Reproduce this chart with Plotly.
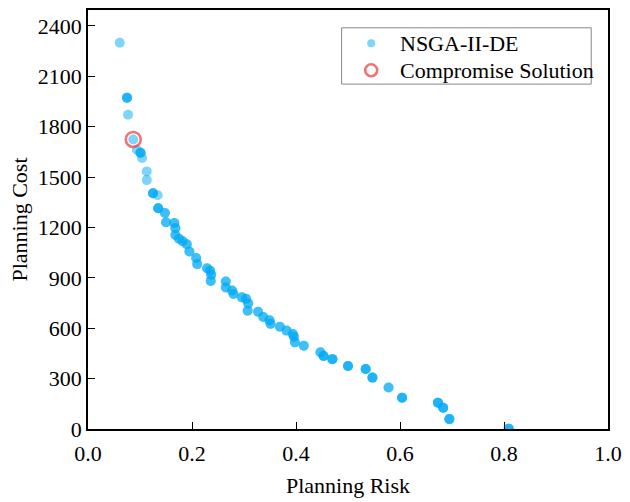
import plotly.graph_objects as go

# Pareto front obtained by NSGA-II-DE (planning risk vs. planning cost)
risk = [0.061, 0.075, 0.077, 0.087, 0.094, 0.101, 0.104, 0.113, 0.113, 0.125, 0.134,
        0.135, 0.148, 0.150, 0.166, 0.168, 0.168, 0.175, 0.182, 0.190, 0.195, 0.208,
        0.210, 0.229, 0.235, 0.237, 0.236, 0.265, 0.265, 0.277, 0.280, 0.296, 0.304,
        0.308, 0.307, 0.327, 0.337, 0.349, 0.351, 0.369, 0.382, 0.394, 0.396, 0.398,
        0.415, 0.447, 0.453, 0.470, 0.500, 0.534, 0.547, 0.578, 0.604, 0.673, 0.683,
        0.695, 0.809]
cost = [2300, 1972, 1871, 1724, 1663, 1645, 1614, 1534, 1482, 1404, 1392,
        1314, 1286, 1231, 1227, 1196, 1155, 1133, 1118, 1100, 1057, 1018,
        982, 957, 943, 919, 882, 878, 843, 825, 804, 784, 775,
        748, 704, 698, 667, 648, 626, 609, 586, 565, 549, 516,
        496, 457, 435, 416, 375, 357, 306, 247, 186, 157, 127,
        59, 2]
# number of identical solutions found at each point of the front
count = [1, 3, 1, 1, 1, 3, 1, 1, 1, 3, 1,
         3, 2, 2, 2, 2, 2, 2, 2, 2, 2, 2,
         2, 2, 2, 2, 2, 2, 2, 2, 2, 2, 2,
         2, 2, 2, 2, 2, 2, 2, 2, 2, 2, 2,
         2, 2, 3, 3, 3, 3, 3, 2, 3, 3, 3,
         3, 3]

# selected compromise solution
comp_risk = [0.087]
comp_cost = [1724]

series_names = ["NSGA-II-DE", "Compromise Solution"]

x_ticks = [0.0, 0.2, 0.4, 0.6, 0.8, 1.0]
y_ticks = [0, 300, 600, 900, 1200, 1500, 1800, 2100, 2400]

pts_x, pts_y = [], []
for rx, cy, n in zip(risk, cost, count):
    pts_x += [rx] * n
    pts_y += [cy] * n

FONT = "Liberation Serif, Times New Roman, serif"
FS = 22
BLUE = "#00AAF5"
RED = "rgba(235,70,70,0.75)"
LIGHT_BLUE = "rgba(0,170,245,0.5)"

fig = go.Figure()
fig.add_trace(go.Scatter(
    x=pts_x, y=pts_y, mode="markers", name=series_names[0], showlegend=False,
    marker=dict(size=10, color=BLUE, opacity=0.5, line=dict(width=0)),
))
fig.add_trace(go.Scatter(
    x=comp_risk, y=comp_cost, mode="markers", name=series_names[1], showlegend=False,
    marker=dict(size=15, symbol="circle-open", color=RED,
                line=dict(width=2.6, color=RED)),
))

axis_common = dict(
    showline=True, linecolor="black", linewidth=1.5, mirror=True,
    ticks="inside", ticklen=7, tickwidth=1.3, tickcolor="black",
    showgrid=False, zeroline=False,
    tickfont=dict(family=FONT, size=FS, color="black"),
)

# legend box drawn in plot-area (paper) coordinates
leg_x0, leg_x1, leg_y0, leg_y1 = 0.4877, 0.9677, 0.8231, 0.9575
sym_x, text_x = 0.5446, 0.5958
row_y = [0.9205, 0.8561]

shapes = [
    dict(type="rect", xref="paper", yref="paper", x0=leg_x0, x1=leg_x1, y0=leg_y0, y1=leg_y1,
         line=dict(color="#888888", width=1), fillcolor="white", layer="above"),
    dict(type="circle", xref="paper", yref="paper", xsizemode="pixel", ysizemode="pixel",
         xanchor=sym_x, yanchor=row_y[0], x0=-4, x1=4, y0=-4, y1=4,
         line=dict(width=0), fillcolor=LIGHT_BLUE, layer="above"),
    dict(type="circle", xref="paper", yref="paper", xsizemode="pixel", ysizemode="pixel",
         xanchor=sym_x, yanchor=row_y[1], x0=-6, x1=6, y0=-6, y1=6,
         line=dict(width=2.6, color=RED), fillcolor="rgba(0,0,0,0)", layer="above"),
]
annotations = [
    dict(xref="paper", yref="paper", x=text_x, y=yy, text=name, showarrow=False,
         xanchor="left", yanchor="middle", font=dict(family=FONT, size=FS, color="black"))
    for name, yy in zip(series_names, row_y)
]

fig.update_layout(
    width=630, height=502,
    margin=dict(l=88, r=15, t=8, b=70),
    paper_bgcolor="white", plot_bgcolor="white",
    font=dict(family=FONT, size=FS, color="black"),
    xaxis=dict(range=[0, 1.0], tickvals=x_ticks, ticktext=[f"{v:.1f}" for v in x_ticks],
               ticklabelstandoff=4,
               title=dict(text="Planning Risk", font=dict(family=FONT, size=FS), standoff=12),
               **axis_common),
    yaxis=dict(range=[0, 2495], tickvals=y_ticks, ticktext=[str(v) for v in y_ticks],
               title=dict(text="Planning Cost", font=dict(family=FONT, size=FS), standoff=4),
               **axis_common),
    shapes=shapes,
    annotations=annotations,
    showlegend=False,
)

fig.write_html("out.html")
